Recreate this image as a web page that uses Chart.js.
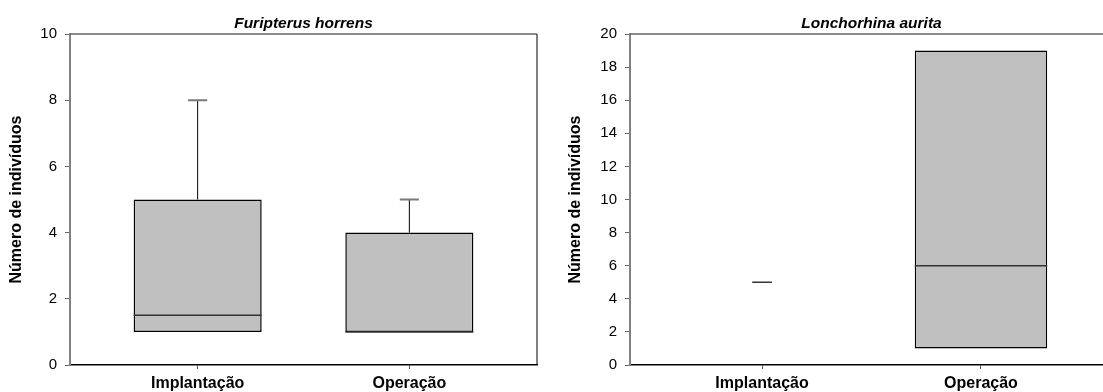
<!DOCTYPE html>
<html>
<head>
<meta charset="utf-8">
<script src="https://cdn.jsdelivr.net/npm/chart.js@4.4.0/dist/chart.umd.min.js"></script>
<style>
html, body { margin: 0; padding: 0; background: #fff; overflow: hidden; width: 1103px; height: 392px; }
#left { position: absolute; left: 0; top: 0; width: 550px; height: 392px; }
#right { position: absolute; left: 550px; top: 0; width: 563px; height: 392px; }
</style>
</head>
<body>
<div id="left"><canvas id="chartLeft"></canvas></div>
<div id="right"><canvas id="chartRight"></canvas></div>
<script>
var categories = ["Implantação", "Operação"];

// Furipterus horrens
var fhQ1 = [1, 1];
var fhMedian = [1.5, 1];
var fhQ3 = [5, 4];
var fhMax = [8, 5];
var fhTicks = [0, 2, 4, 6, 8, 10];

// Lonchorhina aurita (Implantação: one value only)
var laQ1 = [null, 1];
var laMedian = [5, 6];
var laQ3 = [null, 19];
var laMax = [null, 19];
var laTicks = [0, 2, 4, 6, 8, 10, 12, 14, 16, 18, 20];

var BOX = 0.605;   // box width, in category units
var CAP = 0.045;   // half width of whisker caps
var FONT = "'Liberation Sans', Arial, sans-serif";

function boxDatasets(q1, med, q3, mx) {
    var bars = [], whisk = [], caps = [], meds = [];
    categories.forEach(function (c, i) {
        var x = i + 1;
        bars.push({x: x, y: q1[i] == null ? null : [q1[i], q3[i]]});
        // whisker + cap only where the max lies above the box
        if (mx[i] != null && q3[i] != null && mx[i] > q3[i]) {
            whisk.push({x: x, y: q3[i]}, {x: x, y: mx[i]}, {x: x, y: null});
            caps.push({x: x - CAP, y: mx[i]}, {x: x + CAP, y: mx[i]}, {x: x, y: null});
        }
        var half = q1[i] == null ? CAP : BOX / 2;
        meds.push({x: x - half, y: med[i]}, {x: x + half, y: med[i]}, {x: x, y: null});
    });
    var line = {type: "line", pointRadius: 0, spanGaps: false, fill: false, order: 1};
    return [
        {type: "bar", data: bars, backgroundColor: "#c0c0c0", borderColor: "#000",
         borderWidth: 1.5, borderSkipped: false, barPercentage: BOX, categoryPercentage: 1, order: 3},
        Object.assign({data: caps, borderColor: "#7a7a7a", borderWidth: 2}, line),
        Object.assign({data: whisk, borderColor: "#000", borderWidth: 1}, line),
        Object.assign({data: meds, borderColor: "#333", borderWidth: 1.5}, line)
    ];
}

var frame = {
    id: "frame",
    afterDraw: function (chart) {
        var a = chart.chartArea, ctx = chart.ctx;
        ctx.save();
        ctx.lineWidth = 1.5;
        ctx.strokeStyle = "#666";
        ctx.beginPath();
        ctx.moveTo(a.left, a.top);
        ctx.lineTo(a.right, a.top);
        ctx.stroke();
        ctx.strokeStyle = "#000";
        ctx.lineWidth = 1;
        ctx.beginPath();
        ctx.moveTo(a.right, a.top);
        ctx.lineTo(a.right, a.bottom);
        ctx.stroke();
        ctx.restore();
    }
};

function makeChart(id, title, q1, med, q3, mx, ticks, yWidth, titlePad, padRight) {
    return new Chart(document.getElementById(id), {
        type: "bar",
        data: {datasets: boxDatasets(q1, med, q3, mx)},
        plugins: [frame],
        options: {
            responsive: true,
            maintainAspectRatio: false,
            animation: false,
            layout: {padding: {left: 0, right: padRight, top: 0, bottom: 0}},
            plugins: {
                legend: {display: false},
                tooltip: {enabled: false},
                title: {
                    display: true,
                    text: title,
                    fullSize: false,
                    color: "#000",
                    font: {family: FONT, size: 15.5, weight: "bold", style: "italic"},
                    padding: {top: 14, bottom: 1.4}
                }
            },
            scales: {
                x: {
                    type: "linear",
                    min: 0.397,
                    max: 2.603,
                    offset: false,
                    afterBuildTicks: function (s) {
                        s.ticks = categories.map(function (c, i) { return {value: i + 1}; });
                    },
                    afterFit: function (s) { s.height = 27; },
                    ticks: {
                        color: "#000",
                        padding: 5,
                        maxRotation: 0,
                        font: {family: FONT, size: 16, weight: "bold"},
                        callback: function (v) { return categories[Math.round(v) - 1]; }
                    },
                    grid: {drawOnChartArea: false, offset: false, tickLength: 4, color: "#555"},
                    border: {color: "#000", width: 1.5}
                },
                y: {
                    min: ticks[0],
                    max: ticks[ticks.length - 1],
                    afterBuildTicks: function (s) {
                        s.ticks = ticks.map(function (v) { return {value: v}; });
                    },
                    afterFit: function (s) { s.width = yWidth; },
                    ticks: {color: "#000", padding: 8, font: {family: FONT, size: 15}},
                    grid: {drawOnChartArea: false, tickLength: 5, color: "#666"},
                    border: {color: "#808080", width: 2},
                    title: {
                        display: true,
                        text: "Número de indivíduos",
                        color: "#000",
                        font: {family: FONT, size: 16, weight: "bold"},
                        padding: {top: titlePad, bottom: 0}
                    }
                }
            }
        }
    });
}

makeChart("chartLeft", "Furipterus horrens", fhQ1, fhMedian, fhQ3, fhMax, fhTicks, 70, 7.4, 13);
makeChart("chartRight", "Lonchorhina aurita", laQ1, laMedian, laQ3, laMax, laTicks, 80, 16.4, 0);
</script>
</body>
</html>
